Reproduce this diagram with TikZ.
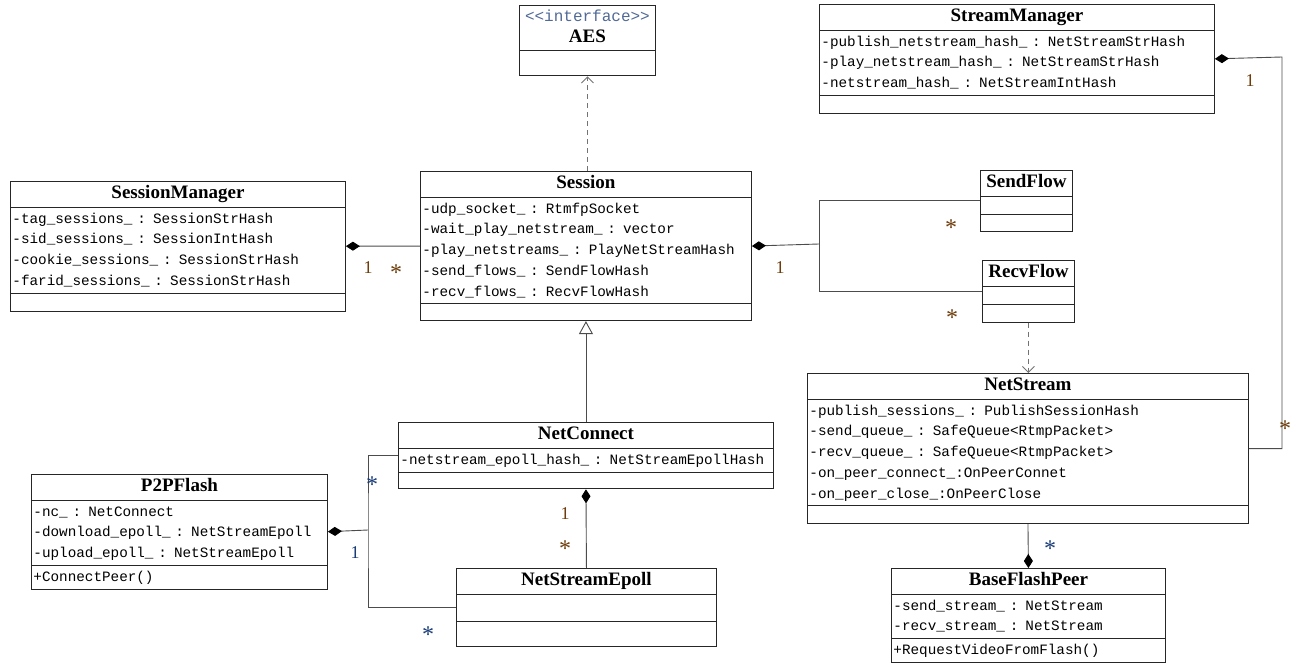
\documentclass[tikz,border=0pt]{standalone}
\usepackage{fontspec}
\setmainfont{Liberation Serif}
\newfontfamily\monof{Liberation Mono}
\usetikzlibrary{shapes.multipart,arrows.meta}
\newcommand\attrfont{\monof\fontsize{14.3}{20.7}\selectfont}
\newcommand\ttl[1]{\centering\rmfamily\fontsize{19}{20}\selectfont\bfseries\rule[-7pt]{0pt}{23pt}#1\par}
\newcommand\attr[1]{\noindent\strut#1\par}
\newcommand\emptyrow[1]{\noindent\rule{0pt}{#1pt}}
\definecolor{mult}{RGB}{110,60,10}
\definecolor{multb}{RGB}{25,60,120}
\definecolor{stereo}{RGB}{80,105,150}
\tikzset{
  umlclass/.style={draw=black!85, line width=0.9pt, rectangle split, rectangle split parts=3,
    anchor=north west, inner xsep=2pt, inner ysep=1pt, font=\attrfont},
  assoc/.style={draw=black!70, line width=0.9pt},
  compo/.style={assoc, -{Diamond[length=14pt,width=9pt,color=black]}},
  depend/.style={draw=black!55, line width=0.9pt, dash pattern=on 5pt off 4pt,
    -{Straight Barb[length=6pt,width=12pt]}},
  inherit/.style={assoc, -{Triangle[open,length=13pt,width=14pt,fill=white]}},
  mul/.style={font=\fontsize{18}{18}\selectfont, text=mult, inner sep=0pt},
  mulb/.style={mul, text=multb},
  star/.style={mul, font=\fontsize{24}{24}\selectfont},
  starb/.style={star, text=multb}
}
\begin{document}
\begin{tikzpicture}[x=1pt, y=-1pt]
\useasboundingbox (0,0) rectangle (1301,666);

\node[umlclass, rectangle split parts=2, text width=132pt] (aes) at (519,5)
  {\centering{\fontsize{16}{18}\selectfont\color{stereo}\rule{0pt}{15pt}<{}<interface>{}>}\par
   {\rmfamily\fontsize{19}{20}\selectfont\bfseries AES\rule[-6pt]{0pt}{0pt}}\par
   \nodepart{two}\emptyrow{23}};
\node[umlclass, text width=391pt] (streammgr) at (819,4)
  {\ttl{StreamManager}
   \nodepart{two}\attr{-publish\_netstream\_hash\_ : NetStreamStrHash}
   \attr{-play\_netstream\_hash\_ : NetStreamStrHash}
   \attr{-netstream\_hash\_ : NetStreamIntHash}
   \nodepart{three}\emptyrow{15}};
\node[umlclass, text width=331pt] (sessmgr) at (10,181)
  {\ttl{SessionManager}
   \nodepart{two}\attr{-tag\_sessions\_ : SessionStrHash}
   \attr{-sid\_sessions\_ : SessionIntHash}
   \attr{-cookie\_sessions\_ : SessionStrHash}
   \attr{-farid\_sessions\_ : SessionStrHash}
   \nodepart{three}\emptyrow{15}};
\node[umlclass, text width=327pt] (session) at (420,171)
  {\ttl{Session}
   \nodepart{two}\attr{-udp\_socket\_ : RtmfpSocket}
   \attr{-wait\_play\_netstream\_ : vector}
   \attr{-play\_netstreams\_ : PlayNetStreamHash}
   \attr{-send\_flows\_ : SendFlowHash}
   \attr{-recv\_flows\_ : RecvFlowHash}
   \nodepart{three}\emptyrow{14}};
\node[umlclass, text width=88pt] (sendflow) at (980,170)
  {\ttl{SendFlow}\nodepart{two}\emptyrow{15}\nodepart{three}\emptyrow{14}};
\node[umlclass, text width=88pt] (recvflow) at (982,260)
  {\ttl{RecvFlow}\nodepart{two}\emptyrow{15}\nodepart{three}\emptyrow{15}};
\node[umlclass, text width=437pt] (netstream) at (807,373)
  {\ttl{NetStream}
   \nodepart{two}\attr{-publish\_sessions\_ : PublishSessionHash}
   \attr{-send\_queue\_ : SafeQueue<RtmpPacket>}
   \attr{-recv\_queue\_ : SafeQueue<RtmpPacket>}
   \attr{-on\_peer\_connect\_:OnPeerConnet}
   \attr{-on\_peer\_close\_:OnPeerClose}
   \nodepart{three}\emptyrow{15}};
\node[umlclass, text width=270pt] (basepeer) at (891,568)
  {\ttl{BaseFlashPeer}
   \nodepart{two}\attr{-send\_stream\_ : NetStream}
   \attr{-recv\_stream\_ : NetStream}
   \nodepart{three}\attr{+RequestVideoFromFlash()}};
\node[umlclass, text width=371pt] (netconnect) at (398,422)
  {\ttl{NetConnect}
   \nodepart{two}\attr{-netstream\_epoll\_hash\_ : NetStreamEpollHash}
   \nodepart{three}\emptyrow{14}};
\node[umlclass, text width=292pt] (p2p) at (31,474)
  {\ttl{P2PFlash}
   \nodepart{two}\attr{-nc\_ : NetConnect}
   \attr{-download\_epoll\_ : NetStreamEpoll}
   \attr{-upload\_epoll\_ : NetStreamEpoll}
   \nodepart{three}\attr{+ConnectPeer()}};
\node[umlclass, text width=256pt] (nsepoll) at (456,568)
  {\ttl{NetStreamEpoll}\nodepart{two}\emptyrow{24}\nodepart{three}\emptyrow{22}};

\coordinate (jflow) at (819,244);
\coordinate (jsm) at (1282,57);
\coordinate (jp) at (368,530);

\draw[depend] (aes.south |- session.north) -- (aes.south);
\draw[depend] (recvflow.south) -- (recvflow.south |- netstream.north);
\draw[compo] (session.west) -- (sessmgr.east);
\draw[assoc] (sendflow.west) -| (jflow) |- (recvflow.west);
\draw[compo] (jflow) -- (session.east);
\draw[compo] (netstream.east) -| (jsm) -- (streammgr.east);
\draw[compo] (netstream.south) -- (basepeer.north);
\draw[inherit] (netconnect.north) -- (session.south);
\draw[assoc] (netconnect.west) -| (jp) |- (nsepoll.west);
\draw[compo] (jp) -- (p2p.east);
\draw[compo] (nsepoll.north) -- (netconnect.south);

\node[mul] (m1) at (368,268) {1};
\node[star] (m2) at (396,273) {*};
\node[mul] (m3) at (780,268) {1};
\node[star] (m4) at (951,228) {*};
\node[star] (m5) at (952,318) {*};
\node[mul] (m6) at (1250,81) {1};
\node[star] (m7) at (1285,429) {*};
\node[starb] (m8) at (1050,549) {*};
\node[mul] (m10) at (565,514) {1};
\node[star] (m11) at (565,549) {*};
\node[starb] (m12) at (372,485) {*};
\node[mulb] (m13) at (355,553) {1};
\node[starb] (m14) at (428,635) {*};
\end{tikzpicture}
\end{document}
